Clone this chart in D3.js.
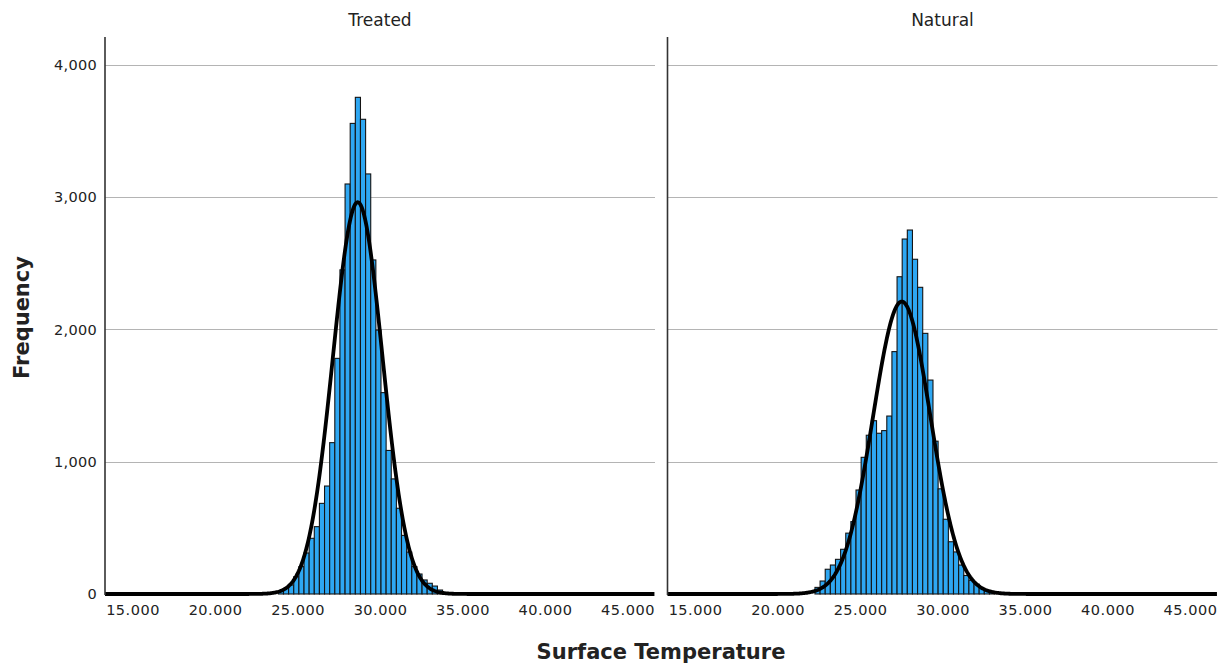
<!DOCTYPE html>
<html>
<head>
<meta charset="utf-8">
<script src="https://cdn.jsdelivr.net/npm/d3@7"></script>
<style>
  html, body { margin: 0; padding: 0; background: #fff; }
  svg { display: block; }
  text { font-family: "DejaVu Sans", "Liberation Sans", sans-serif; fill: #222; }
</style>
</head>
<body>
<svg id="chart" width="1221" height="668"></svg>
<script>
// Surface temperature histograms, one panel per group, with fitted normal curves.
const panelNames = ["Treated", "Natural"];

// Bin layout (temperature units)
const binWidth = 0.311;
const treatedFirstEdge = 23.84;
const naturalFirstEdge = 22.27;

// Frequencies per bin, left to right
const treatedCounts = [20, 43, 68, 131, 207, 310, 421, 509, 685, 816, 1144, 1781, 2450, 3099, 3557, 3754,
  3588, 3175, 2525, 1995, 1522, 1085, 870, 648, 443, 317, 207, 151, 106, 81, 60, 30, 10];
const naturalCounts = [50, 98, 187, 219, 262, 338, 460, 547, 786, 1033, 1200, 1310, 1215, 1235, 1345, 1832,
  2398, 2683, 2751, 2530, 2318, 1970, 1617, 1155, 795, 565, 395, 318, 219, 140, 104, 75, 43, 25, 15];

// Normal fit parameters: mean, standard deviation, N
const treatedFit = [28.65, 1.50, 35800];
const naturalFit = [27.53, 1.74, 31000];

// Axis ticks
const xTicks = [15, 20, 25, 30, 35, 40, 45];
const yTicks = [0, 1000, 2000, 3000, 4000];
const xDomain = [13.333, 46.667];
const yDomain = [0, 4210];

const svg = d3.select("#chart");
const panelLeft = [105, 667.5];
const panelWidth = 550;
const plotTop = 37, plotBottom = 594;

const y = d3.scaleLinear().domain(yDomain).range([plotBottom, plotTop]);

const panels = [
  { name: panelNames[0], counts: treatedCounts, first: treatedFirstEdge, fit: treatedFit },
  { name: panelNames[1], counts: naturalCounts, first: naturalFirstEdge, fit: naturalFit }
];

const fmtX = d3.format(".3f");
const fmtY = d3.format(",");

panels.forEach((p, i) => {
  const x0 = panelLeft[i];
  const x = d3.scaleLinear().domain(xDomain).range([0, panelWidth]);
  const g = svg.append("g").attr("transform", `translate(${x0},0)`);

  // horizontal gridlines
  g.selectAll("line.grid").data(yTicks.filter(t => t > 0)).join("line")
    .attr("class", "grid")
    .attr("x1", 0).attr("x2", panelWidth)
    .attr("y1", d => Math.round(y(d)) + 0.5).attr("y2", d => Math.round(y(d)) + 0.5)
    .attr("stroke", "#b4b4b4").attr("stroke-width", 1.2);

  // histogram bars
  const bins = p.counts.map((c, k) => ({
    lo: p.first + k * binWidth,
    hi: p.first + (k + 1) * binWidth,
    count: c
  }));
  g.selectAll("rect.bar").data(bins).join("rect")
    .attr("class", "bar")
    .attr("x", d => x(d.lo))
    .attr("width", d => x(d.hi) - x(d.lo))
    .attr("y", d => y(d.count))
    .attr("height", d => y(0) - y(d.count))
    .attr("fill", "#2ea7f2")
    .attr("stroke", "#141414")
    .attr("stroke-width", 1.1);

  // fitted normal curve scaled to counts
  const [mu, sd, n] = p.fit;
  const pdf = v => n * binWidth / (sd * Math.sqrt(2 * Math.PI)) * Math.exp(-0.5 * ((v - mu) / sd) ** 2);
  const pts = d3.range(xDomain[0], xDomain[1] + 0.001, 0.05).map(v => [v, pdf(v)]);
  g.append("path")
    .datum(pts)
    .attr("fill", "none")
    .attr("stroke", "#000")
    .attr("stroke-width", 3.8)
    .attr("stroke-linejoin", "round")
    .attr("d", d3.line().x(d => x(d[0])).y(d => y(d[1])));

  // y axis line
  g.append("line")
    .attr("x1", 0).attr("x2", 0)
    .attr("y1", plotTop).attr("y2", plotBottom + 1)
    .attr("stroke", "#333").attr("stroke-width", 1.6);

  // x tick labels
  const xAxis = d3.axisBottom(x).tickValues(xTicks).tickFormat(fmtX).tickSize(0).tickPadding(0);
  const xg = g.append("g").attr("transform", `translate(0,${plotBottom})`).call(xAxis);
  xg.select(".domain").remove();
  xg.selectAll("text")
    .attr("y", 16)
    .attr("dy", "0.32em")
    .style("font-size", "14.5px")
    .style("letter-spacing", "0.5px")
    .attr("fill", "#222");

  // panel title
  g.append("text")
    .attr("x", panelWidth / 2)
    .attr("y", 26)
    .attr("text-anchor", "middle")
    .style("font-size", "17px")
    .text(p.name);
});

// y tick labels (shared, left panel)
const yAxis = d3.axisLeft(y).tickValues(yTicks).tickFormat(fmtY).tickSize(0).tickPadding(8);
const yg = svg.append("g").attr("transform", `translate(${panelLeft[0]},0)`).call(yAxis);
yg.select(".domain").remove();
yg.selectAll("text")
  .style("font-size", "14.5px")
  .style("letter-spacing", "0.3px")
  .attr("fill", "#222");

// axis titles
svg.append("text")
  .attr("transform", `translate(29,${(plotTop + plotBottom) / 2 + 2}) rotate(-90)`)
  .attr("text-anchor", "middle")
  .style("font-size", "21px")
  .style("font-weight", "bold")
  .text("Frequency");

svg.append("text")
  .attr("x", 661)
  .attr("y", 659)
  .attr("text-anchor", "middle")
  .style("font-size", "21px")
  .style("font-weight", "bold")
  .text("Surface Temperature");
</script>
</body>
</html>
